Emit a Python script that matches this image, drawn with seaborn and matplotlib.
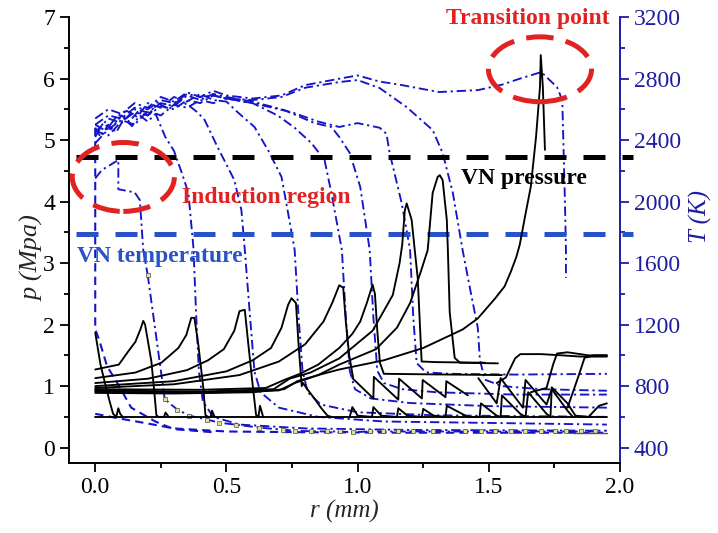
import matplotlib
matplotlib.use("Agg")
import matplotlib.pyplot as plt
import seaborn as sns
from matplotlib.patches import Ellipse
from matplotlib.ticker import FixedLocator

# ---------------- pressure profiles (r in mm, p in MPa) ----------------
p1_r = [0.0, 0.02, 0.04, 0.055, 0.068, 0.08, 0.088, 0.095, 0.105]
p1_v = [1.87, 1.35, 1.0, 0.75, 0.55, 0.5, 0.64, 0.55, 0.5]
p2_r = [0.0, 0.09, 0.125, 0.153, 0.172, 0.183, 0.19, 0.214, 0.225, 0.233, 0.24, 0.262, 0.268, 0.28]
p2_v = [1.27, 1.35, 1.56, 1.72, 1.92, 2.06, 2.0, 1.4, 0.91, 0.53, 0.5, 0.5, 0.57, 0.5]
p3_r = [0.0, 0.153, 0.252, 0.317, 0.347, 0.366, 0.378, 0.393, 0.412, 0.42, 0.43, 0.44, 0.445, 0.455]
p3_v = [1.13, 1.22, 1.38, 1.62, 1.83, 2.11, 2.11, 1.67, 0.97, 0.53, 0.5, 0.5, 0.6, 0.5]
p4_r = [0.0, 0.2, 0.35, 0.43, 0.49, 0.53, 0.55, 0.57, 0.583, 0.60, 0.613, 0.622, 0.628, 0.64]
p4_v = [1.05, 1.12, 1.26, 1.42, 1.6, 1.9, 2.22, 2.24, 1.7, 1.02, 0.53, 0.5, 0.68, 0.5]
p5_r = [0.0, 0.3, 0.5, 0.6, 0.67, 0.71, 0.735, 0.748, 0.765, 0.775, 0.787, 0.792, 0.805, 0.835, 0.86, 0.885, 0.9]
p5_v = [1.0, 1.08, 1.24, 1.42, 1.62, 1.95, 2.32, 2.43, 2.35, 1.67, 1.0, 1.05, 0.97, 0.8, 0.65, 0.52, 0.5]
p6_r = [0.0, 0.3, 0.55, 0.7, 0.8, 0.87, 0.905, 0.93, 0.945, 0.955, 0.968, 0.983]
p6_v = [0.97, 1.03, 1.18, 1.4, 1.68, 2.05, 2.37, 2.64, 2.6, 2.05, 1.5, 1.13]
p7_r = [0.0, 0.4, 0.65, 0.72, 0.78, 0.85, 0.93, 0.98, 1.01, 1.035, 1.057, 1.066, 1.075, 1.085, 1.1, 1.3, 1.55]
p7_v = [0.95, 0.94, 0.97, 1.1, 1.2, 1.35, 1.62, 1.85, 2.05, 2.35, 2.65, 2.5, 1.9, 1.38, 1.2, 1.19, 1.18]
p8_r = [0.0, 0.4, 0.68, 0.74, 0.82, 0.93, 1.057, 1.134, 1.16, 1.17, 1.18, 1.187, 1.206, 1.218, 1.229, 1.244, 1.3, 1.485]
p8_v = [0.93, 0.91, 0.95, 1.12, 1.22, 1.45, 1.9, 2.48, 3.0, 3.3, 3.86, 3.97, 3.7, 3.2, 2.76, 1.40, 1.39, 1.38]
p9_r = [0.0, 0.4, 0.7, 0.76, 0.85, 0.93, 1.07, 1.15, 1.2, 1.24, 1.267, 1.286, 1.305, 1.313, 1.324, 1.34, 1.344, 1.351, 1.37, 1.39, 1.535]
p9_v = [0.91, 0.89, 0.93, 1.05, 1.18, 1.35, 1.6, 1.95, 2.35, 2.85, 3.21, 4.14, 4.4, 4.43, 4.35, 3.7, 3.21, 2.2, 1.46, 1.38, 1.37]
ptr_r = [0.0, 0.3, 0.6, 0.72, 0.77, 0.85, 0.93, 1.1, 1.25, 1.4, 1.458, 1.523, 1.56, 1.584, 1.605, 1.618, 1.64, 1.66, 1.68, 1.695, 1.698, 1.706, 1.714]
ptr_v = [0.89, 0.88, 0.9, 0.95, 1.08, 1.18, 1.27, 1.42, 1.62, 1.92, 2.1, 2.42, 2.62, 2.86, 3.1, 3.3, 3.8, 4.24, 5.05, 5.86, 6.38, 5.86, 4.84]
# after-transition pressure steps
q1_r = [1.53, 1.565, 1.6, 1.62, 1.7, 1.78, 1.85, 1.95]
q1_v = [1.05, 1.14, 1.45, 1.52, 1.52, 1.5, 1.48, 1.48]
q2_r = [1.66, 1.72, 1.745, 1.76, 1.8, 1.88, 1.95]
q2_v = [0.9, 0.97, 1.35, 1.53, 1.55, 1.5, 1.5]
q3_r = [1.80, 1.84, 1.865, 1.9, 1.95]
q3_v = [0.65, 1.14, 1.46, 1.5, 1.5]
# saw-tooth pressure traces
s1_r = [0.98, 1.06, 1.062, 1.155, 1.158, 1.245, 1.248, 1.335, 1.338, 1.42]
s1_v = [1.13, 0.80, 1.15, 0.78, 1.12, 0.80, 1.10, 0.82, 1.08, 0.85]
s1b_r = [1.46, 1.53, 1.545, 1.63, 1.64, 1.72, 1.74, 1.80, 1.82]
s1b_v = [1.13, 0.72, 1.13, 0.65, 1.10, 0.70, 0.95, 0.60, 0.5]
s2_r = [0.97, 0.98, 1.0, 1.055, 1.06, 1.09, 1.15, 1.155, 1.19, 1.245, 1.25, 1.29, 1.335, 1.34, 1.42, 1.465,
        1.47, 1.53, 1.545, 1.55, 1.62, 1.64, 1.65, 1.72, 1.735, 1.74, 1.8, 1.83, 1.88, 1.92, 1.95]
s2_v = [0.5, 0.66, 0.52, 0.5, 0.66, 0.52, 0.5, 0.64, 0.52, 0.5, 0.63, 0.52, 0.5, 0.68, 0.5, 0.5,
        0.72, 0.52, 0.5, 0.85, 0.55, 0.5, 0.9, 0.55, 0.5, 0.98, 0.72, 0.52, 0.5, 0.68, 0.72]
base_r = [0.0, 1.95]
base_v = [0.5, 0.5]
ul_r = [1.82, 1.95]
ul_v = [0.24, 0.24]

# ---------------- temperature profiles (r in mm, T in K) ----------------
ta_r = [0.0, 0.0, 0.0, 0.015, 0.045, 0.088, 0.137, 0.23, 0.3, 0.45]
ta_v = [2480, 2300, 1170, 1100, 930, 809, 660, 569, 520, 500]
tb_r = [0.0, 0.025, 0.088, 0.088, 0.15, 0.17, 0.183, 0.2]
tb_v = [2150, 2205, 2270, 2080, 2060, 2010, 1686, 1523]
tail_r = [0.2, 0.265, 0.313, 0.359, 0.427, 0.473, 0.538, 0.626, 0.714, 0.76, 0.824, 0.885, 0.931, 0.981,
          1.046, 1.095, 1.153, 1.21, 1.286, 1.408, 1.469, 1.523, 1.584, 1.637, 1.699, 1.752, 1.794, 1.851, 1.905]
tail_v = [1523, 715, 647, 608, 582, 562, 549, 530, 517, 510, 506, 505, 505, 500,
          505, 505, 505, 505, 505, 505, 505, 505, 505, 505, 505, 505, 505, 505, 505]
tc_r = [0.0, 0.02, 0.05, 0.08, 0.11, 0.14, 0.17, 0.2, 0.23, 0.267, 0.3, 0.33, 0.355, 0.374, 0.385, 0.395, 0.41, 0.45, 0.55, 0.8, 1.2, 1.95]
tc_v = [2480, 2420, 2500, 2450, 2540, 2490, 2560, 2520, 2570, 2420, 2330, 2186, 2056, 1705, 1250, 900, 700, 600, 550, 525, 515, 510]
td_r = [0.0, 0.03, 0.06, 0.1, 0.13, 0.17, 0.2, 0.24, 0.28, 0.32, 0.36, 0.39, 0.417, 0.466, 0.53, 0.557, 0.57, 0.59, 0.607, 0.63, 0.7, 0.85, 1.1, 1.95]
td_v = [2420, 2510, 2470, 2560, 2520, 2600, 2560, 2640, 2600, 2660, 2620, 2580, 2530, 2355, 2140, 1945, 1686, 1250, 893, 760, 660, 600, 570, 550]
te_r = [0.0, 0.04, 0.08, 0.12, 0.16, 0.2, 0.25, 0.3, 0.35, 0.4, 0.45, 0.5, 0.542, 0.607, 0.66, 0.71, 0.733, 0.76, 0.775, 0.79, 0.81, 0.86, 1.0, 1.3, 1.95]
te_v = [2500, 2460, 2550, 2590, 2550, 2640, 2610, 2680, 2650, 2700, 2660, 2650, 2582, 2485, 2330, 2160, 1945, 1686, 1250, 900, 760, 680, 630, 610, 600]
tf_r = [0.0, 0.05, 0.1, 0.15, 0.2, 0.25, 0.3, 0.35, 0.4, 0.45, 0.5, 0.6, 0.695, 0.76, 0.824, 0.874, 0.9, 0.94, 0.955, 0.97, 0.99, 1.05, 1.2, 1.5, 1.95]
tf_v = [2540, 2600, 2570, 2640, 2610, 2680, 2650, 2710, 2680, 2690, 2670, 2640, 2560, 2480, 2380, 2270, 2056, 1686, 1250, 900, 780, 720, 690, 670, 660]
tg_r = [0.0, 0.05, 0.1, 0.15, 0.2, 0.25, 0.3, 0.35, 0.4, 0.45, 0.5, 0.6, 0.72, 0.836, 0.9, 0.93, 0.97, 1.01, 1.046, 1.06, 1.075, 1.1, 1.17, 1.3, 1.6, 1.95]
tg_v = [2450, 2540, 2510, 2600, 2580, 2640, 2620, 2690, 2660, 2700, 2680, 2650, 2595, 2510, 2485, 2420, 2316, 2095, 1686, 1250, 900, 820, 780, 760, 745, 745]
th_r = [0.0, 0.05, 0.1, 0.15, 0.2, 0.25, 0.3, 0.35, 0.4, 0.45, 0.5, 0.6, 0.75, 0.85, 0.93, 1.0, 1.084, 1.11, 1.122, 1.168, 1.2, 1.212, 1.225, 1.26, 1.35, 1.6, 1.95]
th_v = [2380, 2470, 2530, 2500, 2590, 2560, 2630, 2610, 2660, 2640, 2670, 2640, 2580, 2520, 2485, 2510, 2480, 2440, 2316, 1990, 1686, 1250, 950, 890, 880, 875, 880]
ti_r = [0.0, 0.05, 0.1, 0.15, 0.2, 0.25, 0.3, 0.35, 0.4, 0.45, 0.5, 0.6, 0.71, 0.8, 0.93, 1.0, 1.084, 1.187, 1.286, 1.324, 1.363, 1.40, 1.43, 1.458, 1.466, 1.485, 1.55, 1.7, 1.95]
ti_v = [2460, 2430, 2520, 2580, 2560, 2620, 2600, 2660, 2640, 2690, 2670, 2660, 2680, 2740, 2777, 2790, 2738, 2614, 2465, 2316, 2056, 1686, 1420, 1180, 971, 842, 800, 780, 770]
tj_r = [0.0, 0.05, 0.1, 0.15, 0.2, 0.25, 0.3, 0.35, 0.4, 0.45, 0.5, 0.6, 0.71, 0.8, 0.95, 1.0, 1.084, 1.16, 1.31, 1.46, 1.55, 1.62, 1.70, 1.76, 1.78, 1.785, 1.79, 1.794, 1.794]
tj_v = [2500, 2560, 2540, 2610, 2600, 2660, 2640, 2700, 2680, 2720, 2690, 2670, 2690, 2757, 2805, 2820, 2780, 2760, 2712, 2725, 2760, 2800, 2842, 2744, 2660, 2335, 2010, 1686, 1504]
tbase_r = [0.0, 0.09, 0.19, 0.3, 0.5, 0.8, 1.2, 1.6, 1.95]
tbase_v = [620, 590, 560, 525, 505, 500, 497, 497, 497]

# reference levels
vn_r = [-0.073, 2.05]
vn_p = [4.72, 4.72]      # VN pressure (MPa)
vn_T = [1790, 1790]      # VN temperature (K)

# ---------------- style ----------------
sns.set_style("ticks")
plt.rcParams["font.family"] = ["Liberation Serif", "DejaVu Serif"]

BLK = "#000000"
TBL = "#1414c8"      # temperature traces
AXB = "#1e1ea0"      # right axis colour
VNB = "#2a52c8"      # VN temperature colour
RED = "#e02222"
DD = (0, (5, 2.0, 1.2, 2.0))

fig = plt.figure(figsize=(7.18, 5.33), dpi=100)
ax = fig.add_axes([0.0961, 0.1313, 0.7674, 0.8368])
ax2 = ax.twinx()
ax.set_zorder(ax2.get_zorder() + 1)
ax.patch.set_visible(False)


def pline(a, r, v, **kw):
    sns.lineplot(x=r, y=v, ax=a, sort=False, estimator=None, legend=False, **kw)


# temperature (right axis)
for r, v in [(tb_r, tb_v), (tc_r, tc_v), (td_r, td_v), (te_r, te_v), (tf_r, tf_v),
             (tg_r, tg_v), (th_r, th_v), (ti_r, ti_v), (tj_r, tj_v)]:
    pline(ax2, r, v, color=TBL, lw=1.35, linestyle=DD)
pline(ax2, ta_r, ta_v, color=TBL, lw=1.5, linestyle=(0, (4, 2.5)))
pline(ax2, tbase_r, tbase_v, color=TBL, lw=1.5, linestyle=(0, (4, 2.5)))
pline(ax2, tail_r, tail_v, color=TBL, lw=1.35, linestyle=DD, marker="s", markersize=3,
      markerfacecolor="#e4e48a", markeredgecolor="#505050", markeredgewidth=0.5)
pline(ax2, vn_r, vn_T, color=VNB, lw=3.6, linestyle=(0, (4.4, 3.4)), clip_on=False)

# pressure (left axis)
for r, v in [(p1_r, p1_v), (p2_r, p2_v), (p3_r, p3_v), (p4_r, p4_v), (p5_r, p5_v),
             (p6_r, p6_v), (p7_r, p7_v), (p8_r, p8_v), (p9_r, p9_v), (ptr_r, ptr_v),
             (q1_r, q1_v), (q2_r, q2_v), (q3_r, q3_v), (s1_r, s1_v), (s1b_r, s1b_v),
             (s2_r, s2_v), (base_r, base_v)]:
    pline(ax, r, v, color=BLK, lw=1.35)
pline(ax, ul_r, ul_v, color="#555555", lw=1.0)
pline(ax, vn_r, vn_p, color=BLK, lw=3.6, linestyle=(0, (4.4, 3.4)), clip_on=False)

# annotations
ax.add_patch(Ellipse((0.107, 4.40), 0.389, 1.12, fill=False, edgecolor=RED, lw=3.6,
                     linestyle=(0, (5.5, 2.5)), zorder=6))
ax.add_patch(Ellipse((1.695, 6.15), 0.393, 1.055, fill=False, edgecolor=RED, lw=3.6,
                     linestyle=(0, (5.5, 2.5)), zorder=6))
ax.text(1.65, 6.98, "Transition point", color=RED, fontsize=17, fontweight="bold",
        ha="center", va="center", clip_on=False, zorder=7)
ax.text(0.332, 4.07, "Induction region", color=RED, fontsize=17, fontweight="bold",
        ha="left", va="center", zorder=7)
ax.text(1.393, 4.38, "VN pressure", color=BLK, fontsize=17, fontweight="bold",
        ha="left", va="center", zorder=7)
ax.text(-0.069, 3.10, "VN temperature", color=VNB, fontsize=17, fontweight="bold",
        ha="left", va="center", zorder=7)

# axes limits & ticks
ax.set_xlim(-0.1, 2.0)
ax.set_ylim(-0.25, 7.0)
ax2.set_ylim(300, 3200)
ax.xaxis.set_major_locator(FixedLocator([0.0, 0.5, 1.0, 1.5, 2.0]))
ax.set_xticklabels(["0.0", "0.5", "1.0", "1.5", "2.0"])
ax.xaxis.set_minor_locator(FixedLocator([0.25, 0.75, 1.25, 1.75]))
ax.yaxis.set_major_locator(FixedLocator([0, 1, 2, 3, 4, 5, 6, 7]))
ax.yaxis.set_minor_locator(FixedLocator([0.5, 1.5, 2.5, 3.5, 4.5, 5.5, 6.5]))
ax2.yaxis.set_major_locator(FixedLocator([400, 800, 1200, 1600, 2000, 2400, 2800, 3200]))
ax2.yaxis.set_minor_locator(FixedLocator([600, 1000, 1400, 1800, 2200, 2600, 3000]))

ax.tick_params(axis="both", which="major", direction="out", length=6.5, width=1.3,
               labelsize=17, colors=BLK)
ax.tick_params(axis="both", which="minor", direction="out", length=3.8, width=1.3, colors=BLK)
ax.tick_params(axis="y", which="both", right=False)
ax2.tick_params(axis="y", which="major", direction="out", length=6.5, width=1.3,
                labelsize=17, colors=AXB)
ax2.tick_params(axis="y", which="minor", direction="out", length=3.8, width=1.3, colors=AXB)

for s in ["top", "right"]:
    ax.spines[s].set_visible(False)
for s in ["top", "left", "bottom"]:
    ax2.spines[s].set_visible(False)
ax.spines["left"].set_linewidth(1.4)
ax.spines["bottom"].set_linewidth(1.4)
ax.spines["left"].set_color(BLK)
ax.spines["bottom"].set_color(BLK)
ax2.spines["right"].set_linewidth(1.4)
ax2.spines["right"].set_color(AXB)

ax.set_xlabel("r (mm)", fontsize=18, fontstyle="italic")
ax.set_ylabel("p (Mpa)", fontsize=19, fontstyle="italic")
ax2.set_ylabel("T (K)", fontsize=18, fontstyle="italic", color=AXB, rotation=90)
ax.xaxis.set_label_coords(0.50, -0.083)
ax.yaxis.set_label_coords(-0.045, 0.46)
ax2.yaxis.set_label_coords(1.125, 0.552)

fig.savefig("out.png", dpi=100)
